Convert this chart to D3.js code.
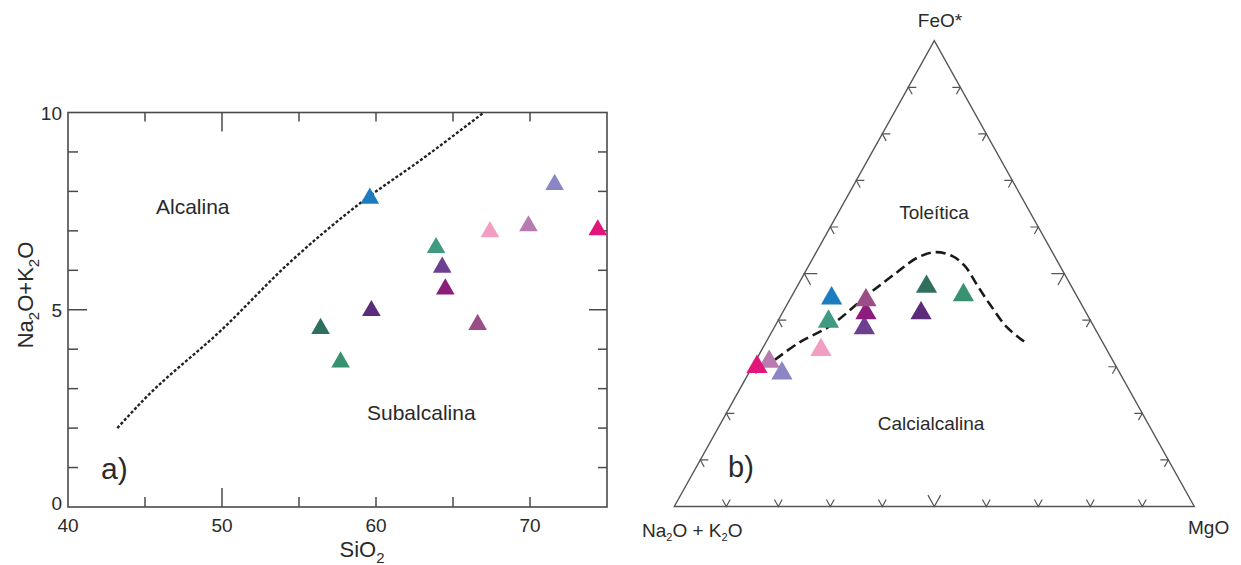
<!DOCTYPE html>
<html>
<head>
<meta charset="utf-8">
<script src="https://cdn.jsdelivr.net/npm/d3@7"></script>
<style>
body { margin: 0; background: #fff; }
svg text { font-family: "Liberation Sans", Arial, sans-serif; fill: #2a2a2a; }
</style>
</head>
<body>
<div id="chart"></div>
<script>
//////// DATA ////////
// one entry per sample, same order in both diagrams
var sampleColors = ["#1b7dc0", "#8b86c4", "#b77bb0", "#f29ec2", "#e1157a", "#3e9b82",
                    "#6e3f91", "#8c1d7c", "#5a2c79", "#2f6f5e", "#9b4d87", "#389170"];
var sio2    = [59.6, 71.6, 69.9, 67.4, 74.4, 63.9, 64.3, 64.5, 59.7, 56.4, 66.6, 57.7];
var alkalis = [7.85, 8.2, 7.15, 7.0, 7.05, 6.6, 6.1, 5.55, 5.0, 4.55, 4.65, 3.7];

// AFM (wt% normalised): A = Na2O+K2O, F = FeO*, M = MgO
var afmA = [47.4, 65.0, 66.2, 55.0, 69.1, 50.5, 44.3, 42.4, 31.8, 27.9, 41.0, 21.7];
var afmF = [44.7, 28.6, 31.1, 33.6, 30.0, 39.7, 38.3, 41.5, 41.5, 47.2, 44.3, 45.4];
var afmM = [7.9, 6.4, 2.7, 11.4, 0.9, 9.8, 17.4, 16.1, 26.7, 24.9, 14.7, 32.9];

// alkaline / subalkaline divide
var tasLineSiO2 = [43.2, 45, 50, 54.4, 58.8, 63.1, 67];
var tasLineAlk  = [2.0, 2.75, 4.5, 6.2, 7.65, 8.85, 10];

// tholeiitic / calc-alkaline divide
var afmLineF = [31.5, 35.3, 38.8, 45.8, 50.3, 53.4, 54.6, 53.8, 51.6, 47.6, 43.3, 38.5, 35.1];
var afmLineM = [3.6, 6.5, 10.6, 14.7, 17.7, 20.0, 22.8, 26.5, 30.1, 34.4, 39.1, 44.7, 50.1];

var xTickValues = [45, 50, 55, 60, 65, 70];
var yTickValues = [1, 2, 3, 4, 5, 6, 7, 8, 9];
var xTickLabels = [40, 50, 60, 70];
var yTickLabels = [0, 5, 10];
var afmTicks = [10, 20, 30, 40, 50, 60, 70, 80, 90];

//////// CANVAS ////////
var width = 1241, height = 565;
var svg = d3.select("#chart").append("svg")
	.attr("width", width)
	.attr("height", height);

var axisColor = "#4a4a4a";

//////// a) TAS ////////
var x = d3.scaleLinear().domain([40, 75]).range([68, 607]);
var y = d3.scaleLinear().domain([0, 10]).range([507, 112.5]);

var ga = svg.append("g");

ga.append("rect")
	.attr("x", x(40)).attr("y", y(10))
	.attr("width", x(75) - x(40)).attr("height", y(0) - y(10))
	.attr("fill", "none").attr("stroke", axisColor).attr("stroke-width", 1.6);

// x ticks, bottom and top, pointing in
ga.selectAll(".xtb").data(xTickValues).enter().append("line")
	.attr("x1", function(d) { return x(d); }).attr("x2", function(d) { return x(d); })
	.attr("y1", y(0)).attr("y2", function(d) { return y(0) - (d == 50 ? 19 : 10); })
	.attr("stroke", axisColor).attr("stroke-width", 1.5);
ga.selectAll(".xtt").data(xTickValues).enter().append("line")
	.attr("x1", function(d) { return x(d); }).attr("x2", function(d) { return x(d); })
	.attr("y1", y(10)).attr("y2", function(d) { return y(10) + (d == 50 ? 19 : 9); })
	.attr("stroke", axisColor).attr("stroke-width", 1.5);

// y ticks, left and right
ga.selectAll(".ytl").data(yTickValues).enter().append("line")
	.attr("y1", function(d) { return y(d); }).attr("y2", function(d) { return y(d); })
	.attr("x1", x(40)).attr("x2", function(d) { return x(40) + (d == 5 ? 19 : 10); })
	.attr("stroke", axisColor).attr("stroke-width", 1.5);
ga.selectAll(".ytr").data(yTickValues).enter().append("line")
	.attr("y1", function(d) { return y(d); }).attr("y2", function(d) { return y(d); })
	.attr("x1", x(75)).attr("x2", function(d) { return x(75) - (d == 5 ? 18 : 9); })
	.attr("stroke", axisColor).attr("stroke-width", 1.5);

// tick labels
ga.selectAll(".xl").data(xTickLabels).enter().append("text")
	.attr("x", function(d) { return x(d); })
	.attr("y", y(0) + 25)
	.attr("text-anchor", "middle")
	.style("font-size", "19px")
	.text(function(d) { return d; });
ga.selectAll(".yl").data(yTickLabels).enter().append("text")
	.attr("x", x(40) - 6)
	.attr("y", function(d) { return y(d) + (d == 0 ? 3 : 7); })
	.attr("text-anchor", "end")
	.style("font-size", "19px")
	.text(function(d) { return d; });

// axis titles
var xt = ga.append("text")
	.attr("x", 362).attr("y", 557)
	.attr("text-anchor", "middle")
	.style("font-size", "22px");
xt.append("tspan").text("SiO");
xt.append("tspan").attr("dy", 6).style("font-size", "15px").text("2");

var yt = ga.append("text")
	.attr("transform", "translate(33,295) rotate(-90)")
	.attr("text-anchor", "middle")
	.style("font-size", "22px");
yt.append("tspan").text("Na");
yt.append("tspan").attr("dy", 6).style("font-size", "15px").text("2");
yt.append("tspan").attr("dy", -6).text("O+K");
yt.append("tspan").attr("dy", 6).style("font-size", "15px").text("2");
yt.append("tspan").attr("dy", -6).text("O");

// divide line
var tasLine = d3.line()
	.x(function(d) { return x(d[0]); })
	.y(function(d) { return y(d[1]); })
	.curve(d3.curveMonotoneX);
ga.append("path")
	.attr("d", tasLine(d3.zip(tasLineSiO2, tasLineAlk)))
	.attr("fill", "none").attr("stroke", "#222")
	.attr("stroke-width", 2.4).attr("stroke-dasharray", "3,2");

// field labels
ga.append("text").attr("x", 156).attr("y", 214).style("font-size", "21px").text("Alcalina");
ga.append("text").attr("x", 367).attr("y", 420).style("font-size", "21px").text("Subalcalina");
ga.append("text").attr("x", 101).attr("y", 479).style("font-size", "30px").text("a)");

// samples
var tri = d3.symbol().type(d3.symbolTriangle);
ga.selectAll(".sa").data(sio2).enter().append("path")
	.attr("d", tri.size(150)())
	.attr("transform", function(d, i) { return "translate(" + x(d) + "," + (y(alkalis[i]) + 1) + ")"; })
	.attr("fill", function(d, i) { return sampleColors[i]; });

//////// b) AFM ////////
var tx = d3.scaleLinear().domain([0, 100]).range([674.3, 1194.3]);
var ty = d3.scaleLinear().domain([0, 100]).range([506.5, 40.7]);

function proj(a, f, m) {
	var s = a + f + m;
	f = f / s * 100; m = m / s * 100;
	return [tx(m + f / 2), ty(f)];
}

var gb = svg.append("g");
var cA = proj(100, 0, 0), cF = proj(0, 100, 0), cM = proj(0, 0, 100);

gb.append("path")
	.attr("d", "M" + cA + "L" + cF + "L" + cM + "Z")
	.attr("fill", "none").attr("stroke", "#555").attr("stroke-width", 1.4);

function unit(p, q) {
	var dx = q[0] - p[0], dy = q[1] - p[1], l = Math.sqrt(dx * dx + dy * dy);
	return [dx / l, dy / l];
}
// chevron ticks: arms follow the two grid directions into the triangle
var edges = [
	{ pt: function(t) { return proj(100 - t, 0, t); }, u1: unit(cA, cF), u2: unit(cM, cF) },
	{ pt: function(t) { return proj(100 - t, t, 0); }, u1: unit(cA, cM), u2: unit(cF, cM) },
	{ pt: function(t) { return proj(0, t, 100 - t); }, u1: unit(cM, cA), u2: unit(cF, cA) }
];
edges.forEach(function(e) {
	gb.selectAll(null).data(afmTicks).enter().append("path")
		.attr("d", function(t) {
			var p = e.pt(t), L = (t == 50 ? 13 : 8);
			return "M" + [p[0] + e.u1[0] * L, p[1] + e.u1[1] * L] + "L" + p +
				"L" + [p[0] + e.u2[0] * L, p[1] + e.u2[1] * L];
		})
		.attr("fill", "none").attr("stroke", "#555").attr("stroke-width", 1.2);
});

// divide curve
var afmLine = d3.line()
	.x(function(d) { return proj(100 - d[0] - d[1], d[0], d[1])[0]; })
	.y(function(d) { return proj(100 - d[0] - d[1], d[0], d[1])[1]; })
	.curve(d3.curveCatmullRom);
gb.append("path")
	.attr("d", afmLine(d3.zip(afmLineF, afmLineM)))
	.attr("fill", "none").attr("stroke", "#1a1a1a")
	.attr("stroke-width", 2.6).attr("stroke-dasharray", "10,5");

// samples
gb.selectAll(".sb").data(afmA).enter().append("path")
	.attr("d", tri.size(195)())
	.attr("transform", function(d, i) { return "translate(" + proj(d, afmF[i], afmM[i]) + ")"; })
	.attr("fill", function(d, i) { return sampleColors[i]; });

// labels
gb.append("text").attr("x", 940).attr("y", 27).attr("text-anchor", "middle").style("font-size", "19px").text("FeO*");
gb.append("text").attr("x", 934).attr("y", 219).attr("text-anchor", "middle").style("font-size", "19px").text("Toleítica");
gb.append("text").attr("x", 931).attr("y", 430).attr("text-anchor", "middle").style("font-size", "19px").text("Calcialcalina");
gb.append("text").attr("x", 728).attr("y", 477).style("font-size", "29px").text("b)");
gb.append("text").attr("x", 1188).attr("y", 534).style("font-size", "19px").text("MgO");
var al = gb.append("text").attr("x", 642).attr("y", 537).style("font-size", "19px");
al.append("tspan").text("Na");
al.append("tspan").attr("dy", 4).style("font-size", "11px").text("2");
al.append("tspan").attr("dy", -4).text("O + K");
al.append("tspan").attr("dy", 4).style("font-size", "11px").text("2");
al.append("tspan").attr("dy", -4).text("O");
</script>
</body>
</html>
